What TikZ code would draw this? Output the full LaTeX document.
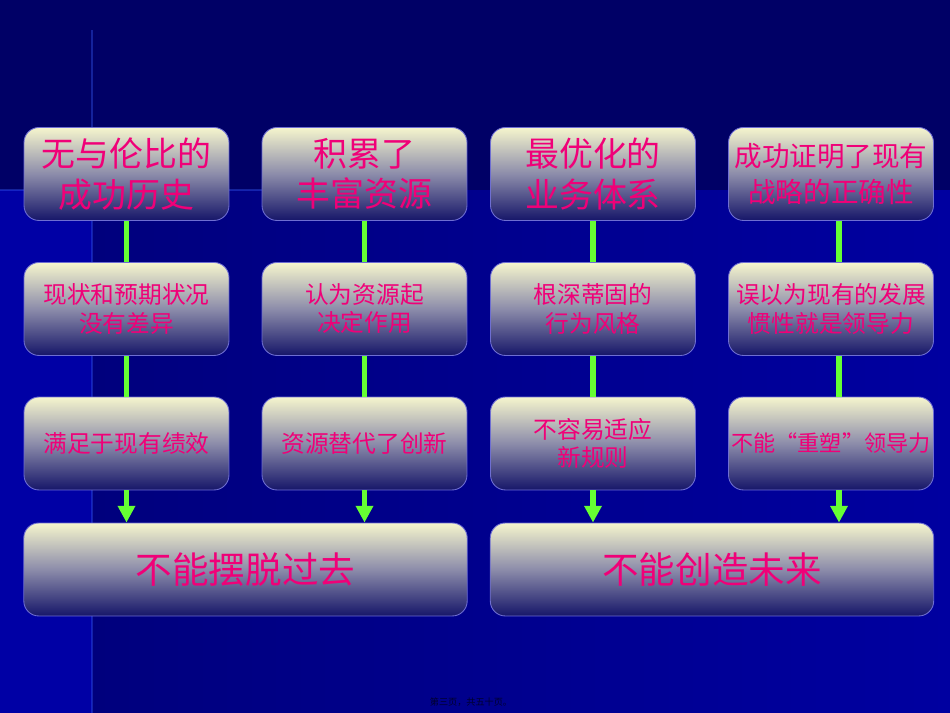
\documentclass[tikz,border=0pt]{standalone}
\usepackage{fontspec}
\newfontfamily\cjk{Noto Sans CJK SC}
\usetikzlibrary{arrows.meta}
\definecolor{bgtop}{RGB}{0,0,102}
\definecolor{bgleft}{RGB}{0,0,165}
\definecolor{bgmidL}{RGB}{0,0,125}
\definecolor{bgmidR}{RGB}{0,0,160}
\definecolor{glow}{RGB}{60,100,255}
\definecolor{boxtop}{RGB}{245,245,205}
\definecolor{boxmid}{RGB}{140,140,170}
\definecolor{boxbot}{RGB}{22,22,105}
\definecolor{boxline}{RGB}{110,110,210}
\definecolor{pinktext}{RGB}{240,0,120}
\definecolor{linkgreen}{RGB}{102,255,51}
\definecolor{footnav}{RGB}{0,0,45}
\begin{document}
\begin{tikzpicture}[x=0.02cm, y=0.02cm,
    box/.style={draw=boxline, line width=0.5pt, rounded corners=0.3cm, top color=boxtop, bottom color=boxbot, middle color=boxmid, minimum width=4.1cm, minimum height=1.86cm, align=center, text=pinktext, inner sep=1pt},
    wide/.style={box, minimum width=8.87cm},
    big/.style={font=\cjk\fontsize{19.3}{23}\selectfont},
    mid/.style={font=\cjk\fontsize{15.7}{21}\selectfont},
    small/.style={font=\cjk\fontsize{13.5}{16}\selectfont},
    tight/.style={font=\cjk\fontsize{12.6}{16}\selectfont, inner xsep=0pt},
    huge/.style={font=\cjk\fontsize{20.8}{24}\selectfont},
    link/.style={linkgreen, line width=3pt},
    flow/.style={link, -{Triangle[width=9.5pt, length=9.5pt]}}]

            %background
            \useasboundingbox (0,0) rectangle (950,713);
            \shade[left color=bgmidL, right color=bgmidR] (92,0) rectangle (950,523);
            \fill[bgleft] (0,0) rectangle (92,523);
            \fill[bgtop] (0,523) rectangle (950,713);
            \draw[glow, line width=0.8pt, opacity=0.35] (92,0) -- (92,683);
            \draw[glow, line width=0.8pt, opacity=0.35] (0,523) -- (262,523);

            %boxes
            \node (H1) at (126.5,539) [box, big] {无与伦比的\\成功历史};
            \node (H2) at (364.5,539) [box, big] {积累了\\丰富资源};
            \node (H3) at (593,539) [box, big] {最优化的\\业务体系};
            \node (H4) at (831,539) [box, mid] {成功证明了现有\\战略的正确性};

            \node (V1) at (126.5,404) [box, small] {现状和预期状况\\没有差异};
            \node (V2) at (364.5,404) [box, small] {认为资源起\\决定作用};
            \node (V3) at (593,404) [box, small] {根深蒂固的\\行为风格};
            \node (V4) at (831,404) [box, small] {误以为现有的发展\\惯性就是领导力};

            \node (E1) at (126.5,269.5) [box, small] {满足于现有绩效};
            \node (E2) at (364.5,269.5) [box, small] {资源替代了创新};
            \node (E3) at (593,269.5) [box, small] {不容易适应\\新规则};
            \node (E4) at (831,269.5) [box, tight] {不能“重塑”领导力};

            \node (P) at (245.5,143.5) [wide, huge] {不能摆脱过去};
            \node (F) at (712,143.5) [wide, huge] {不能创造未来};

            \node (N) at (471,11) [text=footnav, font=\cjk\fontsize{5.2}{6}\selectfont] {第三页，共五十页。};

            %lines
            \draw[link] (H1) -- (V1);
            \draw[link] (H2) -- (V2);
            \draw[link] (H3) -- (V3);
            \draw[link] ([xshift=0.16cm]H4.south) -- ([xshift=0.16cm]V4.north);
            \draw[link] (V1) -- (E1);
            \draw[link] (V2) -- (E2);
            \draw[link] (V3) -- (E3);
            \draw[link] ([xshift=0.16cm]V4.south) -- ([xshift=0.16cm]E4.north);

            %arrows
            \draw[flow] (E1) -- (E1 |- P.north);
            \draw[flow] (E2) -- (E2 |- P.north);
            \draw[flow] (E3) -- (E3 |- F.north);
            \draw[flow] ([xshift=0.16cm]E4.south) -- ([xshift=0.16cm]E4.south |- F.north);

    \end{tikzpicture}
\end{document}
